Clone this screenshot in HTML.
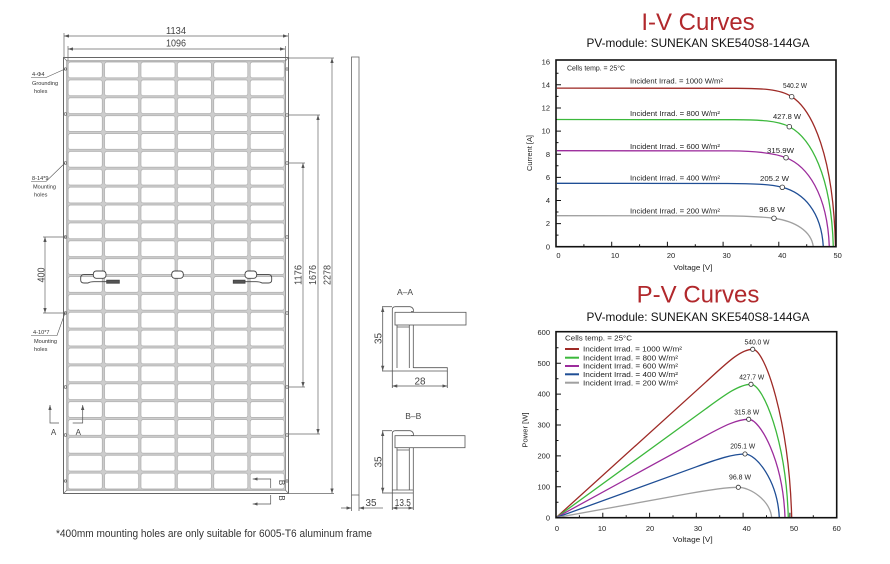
<!DOCTYPE html>
<html><head><meta charset="utf-8">
<style>html,body{margin:0;padding:0;background:#fff}svg{display:block}text{font-family:"Liberation Sans",Arial,sans-serif}</style>
</head><body>
<svg width="890" height="564" viewBox="0 0 890 564" xmlns="http://www.w3.org/2000/svg">
<defs>
<pattern id="cell" patternUnits="userSpaceOnUse" x="67" y="61" width="36.4" height="17.875">
<rect x="0" y="0" width="36.4" height="17.875" fill="#cdcdcd"/>
<rect x="1.2" y="1.1" width="34" height="15.7" rx="2.2" fill="#fff" stroke="#a4a4a4" stroke-width="0.6"/>
</pattern>
<marker id="ar" viewBox="0 0 6 4" refX="6" refY="2" markerUnits="userSpaceOnUse" markerWidth="5" markerHeight="3.4" orient="auto-start-reverse"><path d="M0,0 L6,2 L0,4z" fill="#555"/></marker>
</defs>
<rect width="890" height="564" fill="#fff"/>

<!-- ========== PANEL DRAWING ========== -->
<g stroke="#666" fill="none" stroke-width="0.7">
<line x1="64" y1="36" x2="288" y2="36" marker-start="url(#ar)" marker-end="url(#ar)"/>
<line x1="64" y1="33" x2="64" y2="57"/><line x1="288.5" y1="33" x2="288.5" y2="57"/>
<line x1="68" y1="49" x2="285" y2="49" marker-start="url(#ar)" marker-end="url(#ar)"/>
<line x1="68" y1="46" x2="68" y2="61"/><line x1="285.5" y1="46" x2="285.5" y2="61"/>
</g>
<text x="176" y="34" font-size="10" fill="#444" text-anchor="middle" textLength="20" lengthAdjust="spacingAndGlyphs">1134</text>
<text x="176" y="46.5" font-size="10" fill="#444" text-anchor="middle" textLength="20" lengthAdjust="spacingAndGlyphs">1096</text>

<rect x="67" y="61" width="218.4" height="429" fill="url(#cell)"/>
<rect x="63.5" y="57.5" width="225" height="436" fill="none" stroke="#666" stroke-width="1"/>
<rect x="66.8" y="60.8" width="218.8" height="429.4" fill="none" stroke="#888" stroke-width="0.8"/>
<g stroke="#777" stroke-width="0.7">
<line x1="63.5" y1="57.5" x2="67" y2="61"/><line x1="288.5" y1="57.5" x2="285.4" y2="61"/>
<line x1="63.5" y1="493.5" x2="67" y2="490"/><line x1="288.5" y1="493.5" x2="285.4" y2="490"/>
</g>
<g fill="#fff" stroke="#555" stroke-width="0.6">
<circle cx="65.4" cy="69" r="1.2"/><circle cx="65.4" cy="114" r="1.3"/><circle cx="65.4" cy="163" r="1.3"/>
<circle cx="65.4" cy="237" r="1.3"/><circle cx="65.4" cy="313" r="1.3"/><circle cx="65.4" cy="387" r="1.3"/>
<circle cx="65.4" cy="435" r="1.3"/><circle cx="65.4" cy="481" r="1.2"/>
<circle cx="287" cy="69" r="1.2"/><circle cx="287" cy="115" r="1.3"/><circle cx="287" cy="163" r="1.3"/>
<circle cx="287" cy="237" r="1.3"/><circle cx="287" cy="313" r="1.3"/><circle cx="287" cy="387" r="1.3"/>
<circle cx="287" cy="435" r="1.3"/><circle cx="287" cy="481" r="1.2"/>
</g>
<g fill="#fff" stroke="#444" stroke-width="0.9">
<rect x="93.3" y="271" width="12.7" height="7.3" rx="3"/>
<rect x="171.7" y="271" width="11.6" height="7.3" rx="3"/>
<rect x="245" y="271" width="11.7" height="7.3" rx="3"/>
<path d="M93.3,274.6 H84 Q80.7,274.6 80.7,278 V280 Q80.7,283 84,283 H88 Q90,281.7 94,281.7 H106.7" fill="none"/>
<path d="M256.7,274.6 H268.4 Q271.7,274.6 271.7,278 V280 Q271.7,283 268.4,283 H262 Q260,281.7 256,281.7 H245" fill="none"/>
<rect x="106.7" y="280.2" width="12.6" height="3" fill="#555"/>
<rect x="233.3" y="280.2" width="11.7" height="3" fill="#555"/>
</g>

<g stroke="#666" fill="none" stroke-width="0.7">
<line x1="288" y1="58" x2="334" y2="58"/><line x1="288" y1="493.5" x2="334" y2="493.5"/>
<line x1="332" y1="58" x2="332" y2="493.5" marker-start="url(#ar)" marker-end="url(#ar)"/>
<line x1="288" y1="115" x2="320" y2="115"/><line x1="288" y1="434" x2="320" y2="434"/>
<line x1="318" y1="115" x2="318" y2="434" marker-start="url(#ar)" marker-end="url(#ar)"/>
<line x1="288" y1="163" x2="305" y2="163"/><line x1="288" y1="387" x2="305" y2="387"/>
<line x1="303" y1="163" x2="303" y2="387" marker-start="url(#ar)" marker-end="url(#ar)"/>
<line x1="43" y1="237" x2="66" y2="237"/><line x1="43" y1="313" x2="66" y2="313"/>
<line x1="45" y1="237" x2="45" y2="313" marker-start="url(#ar)" marker-end="url(#ar)"/>
</g>
<g font-size="10" fill="#444" text-anchor="middle">
<text transform="translate(301.5,275) rotate(-90)" textLength="20" lengthAdjust="spacingAndGlyphs">1176</text>
<text transform="translate(316,275) rotate(-90)" textLength="20" lengthAdjust="spacingAndGlyphs">1676</text>
<text transform="translate(330.5,275) rotate(-90)" textLength="20" lengthAdjust="spacingAndGlyphs">2278</text>
<text transform="translate(44.5,275) rotate(-90)" textLength="15" lengthAdjust="spacingAndGlyphs">400</text>
</g>

<g stroke="#666" fill="none" stroke-width="0.8">
<rect x="351.5" y="57" width="7.5" height="438"/>
<line x1="351.5" y1="495" x2="351.5" y2="511"/><line x1="359" y1="495" x2="359" y2="511"/>
<line x1="341" y1="508" x2="351.5" y2="508" marker-end="url(#ar)"/>
<line x1="383" y1="508" x2="359" y2="508" marker-end="url(#ar)"/>
</g>
<text x="371" y="506" font-size="10" fill="#444" text-anchor="middle" textLength="11" lengthAdjust="spacingAndGlyphs">35</text>

<g stroke="#555" fill="none" stroke-width="0.6">
<polyline points="31,77.5 46,77.5 65,69"/>
<polyline points="31,181.5 46,181.5 65,163"/>
<polyline points="31,335.5 57,335.5 65,313"/>
</g>
<g font-size="5.6" fill="#333">
<text x="32" y="76">4-Φ4</text><text x="32" y="85">Grounding</text><text x="34" y="93">holes</text>
<text x="32" y="180">8-14*9</text><text x="33" y="188.5">Mounting</text><text x="34" y="196.5">holes</text>
<text x="33" y="334">4-10*7</text><text x="34" y="343">Mounting</text><text x="34" y="351">holes</text>
</g>

<g stroke="#555" fill="none" stroke-width="0.7">
<polyline points="50,405 50,423 59,423" marker-start="url(#ar)"/>
<polyline points="82.7,405 82.7,423 72.7,423" marker-start="url(#ar)"/>
<polyline points="252.7,479 270.7,479 270.7,488" marker-start="url(#ar)"/>
<polyline points="252.7,504 270.7,504 270.7,495" marker-start="url(#ar)"/>
</g>
<g font-size="8" fill="#444" text-anchor="middle">
<text x="53.5" y="435">A</text><text x="78.3" y="435">A</text>
<text transform="translate(278.8,482.5) rotate(90)">B</text>
<text transform="translate(278.8,498) rotate(90)">B</text>
</g>

<text x="405" y="295" font-size="8.5" fill="#444" text-anchor="middle">A–A</text>
<g stroke="#555" fill="none" stroke-width="0.8">
<path d="M392.3,371 V309.5 Q392.3,306.7 395.5,306.7 H410 Q413.8,307.5 413.5,311.5 H411"/>
<rect x="395" y="312.3" width="71" height="12.7" fill="#fff"/>
<path d="M397,325 V368 M409.3,325 V368 M413.3,325 V368 M397,327 H409.3"/>
<path d="M392.3,371 H447.3 V367.7 H413.3"/>
<line x1="382" y1="306.7" x2="392" y2="306.7"/><line x1="382" y1="371" x2="392" y2="371"/>
<line x1="382.7" y1="307" x2="382.7" y2="370.7" marker-start="url(#ar)" marker-end="url(#ar)"/>
<line x1="392.3" y1="371" x2="392.3" y2="388"/><line x1="447.3" y1="371" x2="447.3" y2="388"/>
<line x1="392.3" y1="386" x2="447.3" y2="386" marker-start="url(#ar)" marker-end="url(#ar)"/>
</g>
<text transform="translate(381.5,338.5) rotate(-90)" font-size="10" fill="#444" text-anchor="middle" textLength="11" lengthAdjust="spacingAndGlyphs">35</text>
<text x="420" y="384.5" font-size="10" fill="#444" text-anchor="middle" textLength="11" lengthAdjust="spacingAndGlyphs">28</text>

<text x="413.3" y="419" font-size="8.5" fill="#444" text-anchor="middle">B–B</text>
<g stroke="#555" fill="none" stroke-width="0.8">
<path d="M392.3,493 V433.5 Q392.3,430.7 395.5,430.7 H410 Q413.8,431.5 413.5,435.5 H411"/>
<rect x="395" y="435.7" width="70" height="12" fill="#fff"/>
<path d="M397,447.7 V490 M409.3,447.7 V490 M413.3,447.7 V493 M397,450 H409.3 M392.3,493 H413.3 M392.3,490 H413.3"/>
<line x1="382" y1="430.7" x2="392" y2="430.7"/><line x1="382" y1="493" x2="392" y2="493"/>
<line x1="382.7" y1="431" x2="382.7" y2="492.7" marker-start="url(#ar)" marker-end="url(#ar)"/>
<line x1="392.3" y1="493" x2="392.3" y2="510"/><line x1="413.3" y1="493" x2="413.3" y2="510"/>
<line x1="392.3" y1="508" x2="413.3" y2="508" marker-start="url(#ar)" marker-end="url(#ar)"/>
</g>
<text transform="translate(381.5,462) rotate(-90)" font-size="10" fill="#444" text-anchor="middle" textLength="11" lengthAdjust="spacingAndGlyphs">35</text>
<text x="402.8" y="506" font-size="10" fill="#444" text-anchor="middle" textLength="16" lengthAdjust="spacingAndGlyphs">13.5</text>

<text x="56" y="537" font-size="11" fill="#333" textLength="316" lengthAdjust="spacingAndGlyphs">*400mm mounting holes are only suitable for 6005-T6 aluminum frame</text>

<!-- ========== I-V CHART ========== -->
<text x="698" y="30" font-size="24" fill="#b1282c" text-anchor="middle">I-V Curves</text>
<text x="698" y="47" font-size="12" fill="#111" text-anchor="middle" textLength="223" lengthAdjust="spacingAndGlyphs">PV-module: SUNEKAN SKE540S8-144GA</text>
<g stroke="#111" stroke-width="1">
<path d="M611.7,246.7v-5M667.4,246.7v-5M723.1,246.7v-5M778.8,246.7v-5M583.9,246.7v-2.5M639.6,246.7v-2.5M695.3,246.7v-2.5M751,246.7v-2.5M806.7,246.7v-2.5"/>
<path d="M556,223.6h5M556,200.5h5M556,177.4h5M556,154.2h5M556,131.1h5M556,108h5M556,84.8h5M556,235.1h2.5M556,212h2.5M556,188.9h2.5M556,165.8h2.5M556,142.6h2.5M556,119.5h2.5M556,96.4h2.5M556,73.3h2.5"/>
</g>
<g fill="none" stroke-width="1.3">
<path stroke="#9e2a26" d="M557,88.1 L736.7,88.3 C761.7,88.4 779.7,89 791.7,96.7 C812.7,110.1 833.5,156.7 835.5,246.7"/>
<path stroke="#3cb83c" d="M557,119.5 L734.3,119.7 C759.3,119.8 777.3,120.5 789.3,126.7 C810.3,137.6 831.3,174.7 833.3,246.7"/>
<path stroke="#9c2c9c" d="M557,150.7 L731,150.9 C756,151 774,153 786,157.7 C807,165.9 827.3,193.3 829.3,246.7"/>
<path stroke="#1f4e95" d="M557,183.3 L727.3,183.5 C752.3,183.6 770.3,184.1 782.3,187.3 C803.3,192.8 821.3,211.1 823.3,246.7"/>
<path stroke="#a0a0a0" d="M557,215.7 L719,215.8 C744,215.9 762,216.7 774,218.3 C795,221.1 811.3,231.1 813.3,246.7"/>
</g>
<rect x="556" y="60" width="280" height="186.7" fill="none" stroke="#111" stroke-width="1.6"/>
<g fill="#fff" stroke="#333" stroke-width="0.8">
<circle cx="791.7" cy="96.7" r="2.3"/><circle cx="789.3" cy="126.7" r="2.3"/><circle cx="786" cy="157.7" r="2.3"/><circle cx="782.3" cy="187.3" r="2.3"/><circle cx="774" cy="218.3" r="2.3"/>
</g>
<g font-size="7.5" fill="#222">
<text x="567" y="70.5" textLength="58" lengthAdjust="spacingAndGlyphs">Cells temp. = 25°C</text>
<text x="630" y="83.5" textLength="93" lengthAdjust="spacingAndGlyphs">Incident Irrad. = 1000 W/m²</text>
<text x="630" y="116" textLength="90" lengthAdjust="spacingAndGlyphs">Incident Irrad. = 800 W/m²</text>
<text x="630" y="149" textLength="90" lengthAdjust="spacingAndGlyphs">Incident Irrad. = 600 W/m²</text>
<text x="630" y="180.5" textLength="90" lengthAdjust="spacingAndGlyphs">Incident Irrad. = 400 W/m²</text>
<text x="630" y="213.5" textLength="90" lengthAdjust="spacingAndGlyphs">Incident Irrad. = 200 W/m²</text>
<text x="783" y="88" textLength="24" lengthAdjust="spacingAndGlyphs">540.2 W</text>
<text x="773" y="119" textLength="28" lengthAdjust="spacingAndGlyphs">427.8 W</text>
<text x="767" y="153" textLength="27" lengthAdjust="spacingAndGlyphs">315.9W</text>
<text x="760" y="181" textLength="29" lengthAdjust="spacingAndGlyphs">205.2 W</text>
<text x="759" y="212" textLength="26" lengthAdjust="spacingAndGlyphs">96.8 W</text>
</g>
<g font-size="7.5" fill="#222" text-anchor="end">
<text x="550" y="249.3">0</text><text x="550" y="226.2">2</text><text x="550" y="203.1">4</text><text x="550" y="180">6</text><text x="550" y="156.8">8</text><text x="550" y="133.7">10</text><text x="550" y="110.6">12</text><text x="550" y="87.4">14</text><text x="550" y="64.3">16</text>
</g>
<g font-size="7.5" fill="#222" text-anchor="middle">
<text x="558.5" y="258">0</text><text x="615" y="258">10</text><text x="671" y="258">20</text><text x="726.7" y="258">30</text><text x="782.3" y="258">40</text><text x="837.7" y="258">50</text>
<text x="693" y="270" textLength="39" lengthAdjust="spacingAndGlyphs">Voltage [V]</text>
<text transform="translate(532,153) rotate(-90)" textLength="36" lengthAdjust="spacingAndGlyphs">Current [A]</text>
</g>

<!-- ========== P-V CHART ========== -->
<text x="698" y="302.7" font-size="24" fill="#b1282c" text-anchor="middle">P-V Curves</text>
<text x="698" y="321" font-size="12" fill="#111" text-anchor="middle" textLength="223" lengthAdjust="spacingAndGlyphs">PV-module: SUNEKAN SKE540S8-144GA</text>
<g stroke="#111" stroke-width="1">
<path d="M602.8,517.7v-5M649.6,517.7v-5M696.3,517.7v-5M743.1,517.7v-5M789.9,517.7v-5M579.4,517.7v-2.5M626.2,517.7v-2.5M673,517.7v-2.5M719.7,517.7v-2.5M766.5,517.7v-2.5M813.3,517.7v-2.5"/>
<path d="M556,486.8h5M556,455.9h5M556,425h5M556,394.1h5M556,363.2h5M556,502.3h2.5M556,471.4h2.5M556,440.5h2.5M556,409.6h2.5M556,378.7h2.5M556,347.8h2.5"/>
</g>
<g fill="none" stroke-width="1.3">
<path stroke="#9e2a26" d="M556,517.7 L705.7,382.2 C725,364.7 740,349.3 752.7,349.3 C765,349.3 789,420 791.7,517.7"/>
<path stroke="#3cb83c" d="M556,517.7 L705.7,408.9 C724.5,395.2 739,384.3 751,384.3 C763,384.3 786,440 788.3,517.7"/>
<path stroke="#9c2c9c" d="M556,517.7 L705.7,435.8 C724,425.8 737,419.3 748.7,419.3 C760,419.3 783,460 785,517.7"/>
<path stroke="#1f4e95" d="M556,517.7 L696.3,466.8 C718,458.9 733,454 745,454 C756,454 777.5,480 779.3,517.7"/>
<path stroke="#a0a0a0" d="M556,517.7 L687,493.9 C710,489.7 726,487.3 738.3,487.3 C750,487.3 770,500 771.7,517.7"/>
</g>
<rect x="556" y="331.7" width="280.7" height="186" fill="none" stroke="#111" stroke-width="1.6"/>
<g fill="#fff" stroke="#333" stroke-width="0.8">
<circle cx="752.7" cy="349.3" r="2.1"/><circle cx="751" cy="384.3" r="2.1"/><circle cx="748.7" cy="419.3" r="2.1"/><circle cx="745" cy="454" r="2.1"/><circle cx="738.3" cy="487.3" r="2.1"/>
</g>
<g stroke-width="2">
<line x1="565" y1="349" x2="579" y2="349" stroke="#9e2a26"/>
<line x1="565" y1="357.7" x2="579" y2="357.7" stroke="#3cb83c"/>
<line x1="565" y1="366" x2="579" y2="366" stroke="#9c2c9c"/>
<line x1="565" y1="374.3" x2="579" y2="374.3" stroke="#1f4e95"/>
<line x1="565" y1="382.7" x2="579" y2="382.7" stroke="#a0a0a0"/>
</g>
<g font-size="7.5" fill="#222">
<text x="565" y="340.7" textLength="67" lengthAdjust="spacingAndGlyphs">Cells temp. = 25°C</text>
<text x="583" y="351.6" textLength="99" lengthAdjust="spacingAndGlyphs">Incident Irrad. = 1000 W/m²</text>
<text x="583" y="360.3" textLength="95" lengthAdjust="spacingAndGlyphs">Incident Irrad. = 800 W/m²</text>
<text x="583" y="368.6" textLength="95" lengthAdjust="spacingAndGlyphs">Incident Irrad. = 600 W/m²</text>
<text x="583" y="376.9" textLength="95" lengthAdjust="spacingAndGlyphs">Incident Irrad. = 400 W/m²</text>
<text x="583" y="385.3" textLength="95" lengthAdjust="spacingAndGlyphs">Incident Irrad. = 200 W/m²</text>
</g>
<g font-size="7.5" fill="#222" text-anchor="middle">
<text x="757" y="344.3" textLength="25" lengthAdjust="spacingAndGlyphs">540.0 W</text>
<text x="751.7" y="379.3" textLength="25" lengthAdjust="spacingAndGlyphs">427.7 W</text>
<text x="746.7" y="414.3" textLength="25" lengthAdjust="spacingAndGlyphs">315.8 W</text>
<text x="742.7" y="448.3" textLength="25" lengthAdjust="spacingAndGlyphs">205.1 W</text>
<text x="740" y="479.3" textLength="22" lengthAdjust="spacingAndGlyphs">96.8 W</text>
</g>
<g font-size="7.5" fill="#222" text-anchor="end">
<text x="550" y="520.3">0</text><text x="550" y="489.4">100</text><text x="550" y="458.5">200</text><text x="550" y="427.6">300</text><text x="550" y="396.7">400</text><text x="550" y="365.8">500</text><text x="550" y="334.9">600</text>
</g>
<g font-size="7.5" fill="#222" text-anchor="middle">
<text x="557" y="531">0</text><text x="602" y="531">10</text><text x="650" y="531">20</text><text x="698" y="531">30</text><text x="746.7" y="531">40</text><text x="794" y="531">50</text><text x="836.7" y="531">60</text>
<text x="692.7" y="542" textLength="40" lengthAdjust="spacingAndGlyphs">Voltage [V]</text>
<text transform="translate(527.5,430) rotate(-90)" textLength="35" lengthAdjust="spacingAndGlyphs">Power [W]</text>
</g>
</svg>
</body></html>
